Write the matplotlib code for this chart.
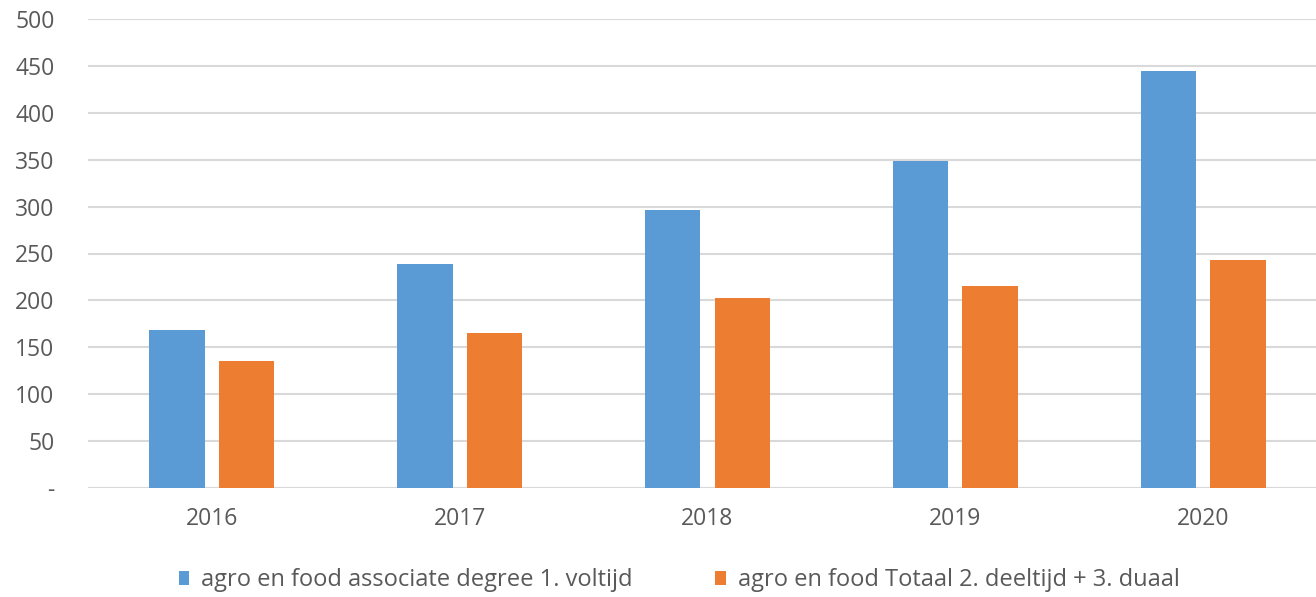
import matplotlib.pyplot as plt
import numpy as np

years = ["2016", "2017", "2018", "2019", "2020"]
voltijd = [168, 239, 296, 349, 445]
deeltijd_duaal = [135, 165, 203, 215, 243]
labels = ["agro en food associate degree 1. voltijd",
          "agro en food Totaal 2. deeltijd + 3. duaal"]
yticks = [0, 50, 100, 150, 200, 250, 300, 350, 400, 450, 500]
ytick_labels = ["-", "50", "100", "150", "200", "250", "300", "350", "400", "450", "500"]

plt.rcParams['font.family'] = ['Open Sans', 'DejaVu Sans']

fig = plt.figure(figsize=(13.16, 5.97), dpi=100)
ax = fig.add_axes([88/1316, 1-488/597, (1327-88)/1316, (488-19)/597])

x = np.arange(len(years))
w = 0.224
gap = 0.057
off = (w + gap) / 2
b1 = ax.bar(x - off, voltijd, w, color="#5b9bd5", label=labels[0], zorder=3)
b2 = ax.bar(x + off, deeltijd_duaal, w, color="#ed7d31", label=labels[1], zorder=3)

ax.set_xlim(-0.5, len(years) - 0.5)
ax.set_ylim(0, 500)
ax.set_yticks(yticks)
ax.set_yticklabels(ytick_labels)
ax.set_xticks(x)
ax.set_xticklabels(years)
ax.yaxis.grid(True, color="#d9d9d9", linewidth=1.5, zorder=0)
for s in ["top", "right", "left", "bottom"]:
    ax.spines[s].set_visible(False)
ax.axhline(0, color="#d9d9d9", linewidth=1.5, zorder=1)
ax.tick_params(axis="both", length=0, labelsize=16.5, colors="#595959")
ax.tick_params(axis="y", pad=24)
ax.tick_params(axis="x", pad=14)

leg = fig.legend(handles=[b1, b2], labels=labels, loc="center", bbox_to_anchor=(679/1316, 1-580/597),
                 ncol=2, frameon=False, fontsize=17, handlelength=0.45, handleheight=0.55,
                 handletextpad=0.5, columnspacing=3.5, labelcolor="#595959")

fig.savefig("out.png", dpi=100)
